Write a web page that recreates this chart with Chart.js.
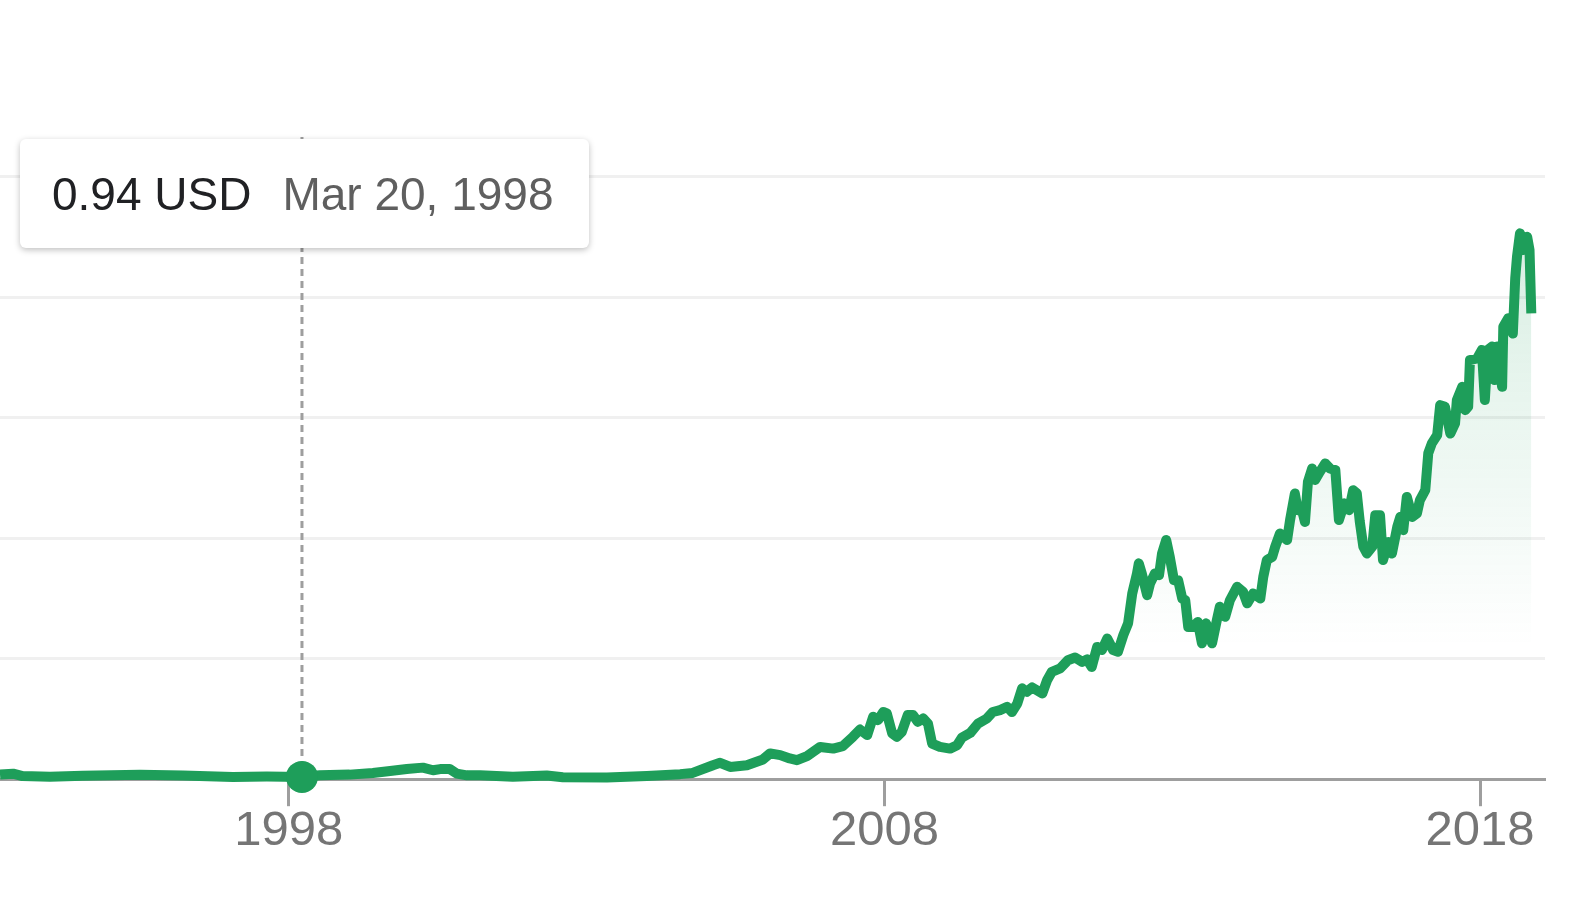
<!DOCTYPE html>
<html>
<head>
<meta charset="utf-8">
<script src="https://cdn.jsdelivr.net/npm/chart.js@4.4.1/dist/chart.umd.min.js"></script>
<style>
  body { margin: 0; background: #fff; }
  #wrap { position: relative; width: 1586px; height: 900px; }
  #tip {
    position: absolute;
    left: 20px;
    top: 139px;
    width: 569px;
    height: 109px;
    box-sizing: border-box;
    padding-left: 32px;
    background: #fff;
    border-radius: 6px;
    box-shadow: 0 2px 6px rgba(0, 0, 0, 0.25);
    display: flex;
    align-items: center;
    font-family: "Liberation Sans", Arial, sans-serif;
    font-size: 46px;
    white-space: nowrap;
  }
  #tipValue { color: #202124; }
  #tipDate { color: #5f5f5f; margin-left: 31px; }
</style>
</head>
<body>
<div id="wrap">
  <canvas id="priceChart" width="1586" height="900"></canvas>
  <div id="tip"><span id="tipValue"></span><span id="tipDate"></span></div>
</div>
<script>
// weekly-ish closes (decimal year, USD)
const years = [
  1993.15, 1993.37, 1993.53, 1993.99, 1994.54, 1995.50, 1996.22, 1997.06, 1997.63, 1998.22,
  1998.52, 1999.02, 1999.41, 1999.70, 1999.98, 2000.25, 2000.42, 2000.54, 2000.70, 2000.82, 2000.99,
  2001.21, 2001.76, 2002.33, 2002.60, 2003.34, 2004.01, 2004.57, 2004.78,
  2005.12, 2005.24, 2005.41, 2005.69, 2005.96,
  2006.08, 2006.25, 2006.41, 2006.53, 2006.70, 2006.92,
  2007.14, 2007.30, 2007.47, 2007.59, 2007.71, 2007.81, 2007.89, 2007.98,
  2008.04, 2008.13, 2008.21, 2008.29, 2008.39, 2008.48, 2008.56, 2008.65, 2008.73, 2008.80, 2008.93,
  2009.10, 2009.22, 2009.30, 2009.44, 2009.57, 2009.72, 2009.82, 2009.94,
  2010.06, 2010.14, 2010.23, 2010.31, 2010.39, 2010.48, 2010.65, 2010.73, 2010.81, 2010.95,
  2011.08, 2011.20, 2011.32, 2011.40, 2011.48, 2011.57, 2011.65, 2011.74, 2011.84, 2011.92,
  2012.01, 2012.09, 2012.16, 2012.24, 2012.27, 2012.32, 2012.41, 2012.46, 2012.54, 2012.61, 2012.66, 2012.73, 2012.79, 2012.86, 2012.93,
  2013.00, 2013.05, 2013.10, 2013.18, 2013.26, 2013.33, 2013.40, 2013.50, 2013.58, 2013.63, 2013.72, 2013.80, 2013.92,
  2014.02, 2014.09, 2014.19, 2014.31, 2014.36, 2014.42, 2014.51, 2014.56, 2014.64, 2014.76, 2014.81, 2014.89, 2014.94,
  2015.01, 2015.06, 2015.11, 2015.18, 2015.23, 2015.31, 2015.40, 2015.48, 2015.57, 2015.63, 2015.72, 2015.80, 2015.87, 2015.93, 2015.98,
  2016.04, 2016.10, 2016.19, 2016.24, 2016.32, 2016.37, 2016.46, 2016.52, 2016.61, 2016.66, 2016.71, 2016.77, 2016.86, 2016.94, 2016.99,
  2017.08, 2017.13, 2017.19, 2017.28, 2017.33, 2017.41, 2017.50, 2017.58, 2017.61, 2017.70, 2017.75, 2017.80, 2017.83, 2017.95,
  2018.03, 2018.08, 2018.13, 2018.20, 2018.24, 2018.29, 2018.37, 2018.39, 2018.47, 2018.55, 2018.59, 2018.62, 2018.67, 2018.72, 2018.79, 2018.83, 2018.86
];

const prices = [
  1.9, 2.3, 1.3, 1.0, 1.4, 1.8, 1.5, 0.95, 1.1, 0.94,
  1.6, 1.9, 2.6, 3.4, 4.2, 4.8, 3.7, 4.2, 4.2, 2.3, 1.6,
  1.6, 1.0, 1.5, 0.8, 0.7, 1.3, 2.1, 2.6,
  5.8, 6.8, 5.1, 5.8, 8.2,
  10.7, 10.0, 8.6, 7.9, 9.6, 13.4,
  12.7, 13.7, 17.6, 20.6, 18.3, 25.9, 24.5, 27.9,
  27.3, 19.0, 17.6, 19.6, 26.6, 26.6, 23.8, 25.2, 23.1, 14.8, 13.4,
  12.7, 14.1, 17.3, 19.2, 23.1, 25.2, 27.9, 28.7,
  30.0, 27.9, 31.4, 37.7, 36.3, 38.1, 35.6, 41.1, 44.6, 46.0,
  49.4, 50.5, 48.7, 49.7, 46.6, 54.9, 53.6, 58.4, 53.6, 52.9,
  59.8, 64.7, 77.1, 85.4, 89.6, 85.4, 76.4, 81.3, 85.4, 84.7, 93.7, 99.3, 92.3, 82.6, 82.6,
  75.0, 74.3, 63.2, 63.2, 65.3, 56.4, 64.7, 56.4, 66.0, 71.6, 67.4, 74.3, 79.9,
  77.8, 73.0, 77.1, 75.0, 84.0, 91.0, 92.3, 96.5, 102.0, 99.3, 107.6, 118.6, 111.7,
  111.7, 106.8, 123.5, 129.0, 124.2, 127.6, 131.1, 129.0, 128.3, 107.6, 114.5, 111.7, 120.0, 118.7, 107.0,
  96.5, 93.7, 96.5, 109.6, 109.6, 91.0, 98.5, 93.7, 104.8, 108.9, 103.4, 117.2, 108.9, 110.3, 115.9,
  120.0, 135.3, 139.4, 142.9, 155.3, 154.6, 143.5, 147.7, 157.4, 162.9, 153.2, 154.6, 174.0, 174.7,
  178.2, 157.4, 178.2, 179.6, 165.7, 179.6, 162.9, 187.8, 191.3, 185.0, 207.9, 216.9, 226.6, 219.7, 225.2, 219.7, 193.4
];

const yearTicks = [1998, 2008, 2018];
const priceGrid = [0, 50, 100, 150, 200, 250];

// hovered point shown in the tooltip
const hoverIndex = 9;
const hoverDate = "Mar 20, 1998";
const currency = "USD";

const GREEN = "#1e9e5a";
const AXIS_GREY = "#9e9e9e";

document.getElementById("tipValue").textContent = prices[hoverIndex].toFixed(2) + " " + currency;
document.getElementById("tipDate").textContent = hoverDate;

const hoverLine = {
  id: "hoverLine",
  beforeDatasetsDraw(chart) {
    const { ctx, chartArea, scales } = chart;
    const x = scales.x.getPixelForValue(years[hoverIndex]);
    const y = scales.y.getPixelForValue(prices[hoverIndex]);
    ctx.save();
    ctx.strokeStyle = AXIS_GREY;
    ctx.lineWidth = 3;
    ctx.setLineDash([7, 5]);
    ctx.beginPath();
    ctx.moveTo(x, chartArea.top);
    ctx.lineTo(x, y);
    ctx.stroke();
    ctx.restore();
  }
};

// fill fades out well above the baseline
function fillGradient(context) {
  const chart = context.chart;
  const { ctx, chartArea, scales } = chart;
  if (!chartArea) return null;
  const top = scales.y.getPixelForValue(Math.max(...prices));
  const fadeTo = scales.y.getPixelForValue(55);
  const g = ctx.createLinearGradient(0, top, 0, fadeTo);
  g.addColorStop(0, "rgba(30,158,90,0.17)");
  g.addColorStop(1, "rgba(30,158,90,0)");
  return g;
}

new Chart(document.getElementById("priceChart"), {
  type: "line",
  data: {
    datasets: [
      {
        data: years.map((yr, i) => ({ x: yr, y: prices[i] })),
        borderColor: GREEN,
        borderWidth: 10,
        borderJoinStyle: "round",
        tension: 0,
        fill: "origin",
        backgroundColor: fillGradient,
        pointRadius: years.map((_, i) => (i === hoverIndex ? 16 : 0)),
        pointBackgroundColor: GREEN,
        pointBorderWidth: 0,
        clip: false
      }
    ]
  },
  options: {
    responsive: false,
    animation: false,
    devicePixelRatio: 1,
    layout: { padding: { left: 0, right: 41, top: 137, bottom: 43 } },
    plugins: { legend: { display: false }, tooltip: { enabled: false } },
    scales: {
      x: {
        type: "linear",
        min: 1993.15,
        max: 2019.09,
        afterBuildTicks: scale => {
          scale.ticks = yearTicks.map(v => ({ value: v }));
        },
        ticks: {
          callback: v => String(v),
          color: "#757575",
          font: { family: "'Liberation Sans', Arial, sans-serif", size: 49 },
          padding: -4,
          maxRotation: 0,
          autoSkip: false
        },
        grid: {
          drawOnChartArea: false,
          drawTicks: true,
          tickLength: 27,
          tickWidth: 3,
          tickColor: AXIS_GREY
        },
        border: { display: true, color: AXIS_GREY, width: 3 }
      },
      y: {
        min: 0,
        max: 266.6,
        afterBuildTicks: scale => {
          scale.ticks = priceGrid.map(v => ({ value: v }));
        },
        ticks: { display: false },
        grid: {
          drawTicks: false,
          lineWidth: 3,
          color: c => (c.tick && c.tick.value === 0 ? "rgba(0,0,0,0)" : "#f0f0f0")
        },
        border: { display: false }
      }
    }
  },
  plugins: [hoverLine]
});
</script>
</body>
</html>
